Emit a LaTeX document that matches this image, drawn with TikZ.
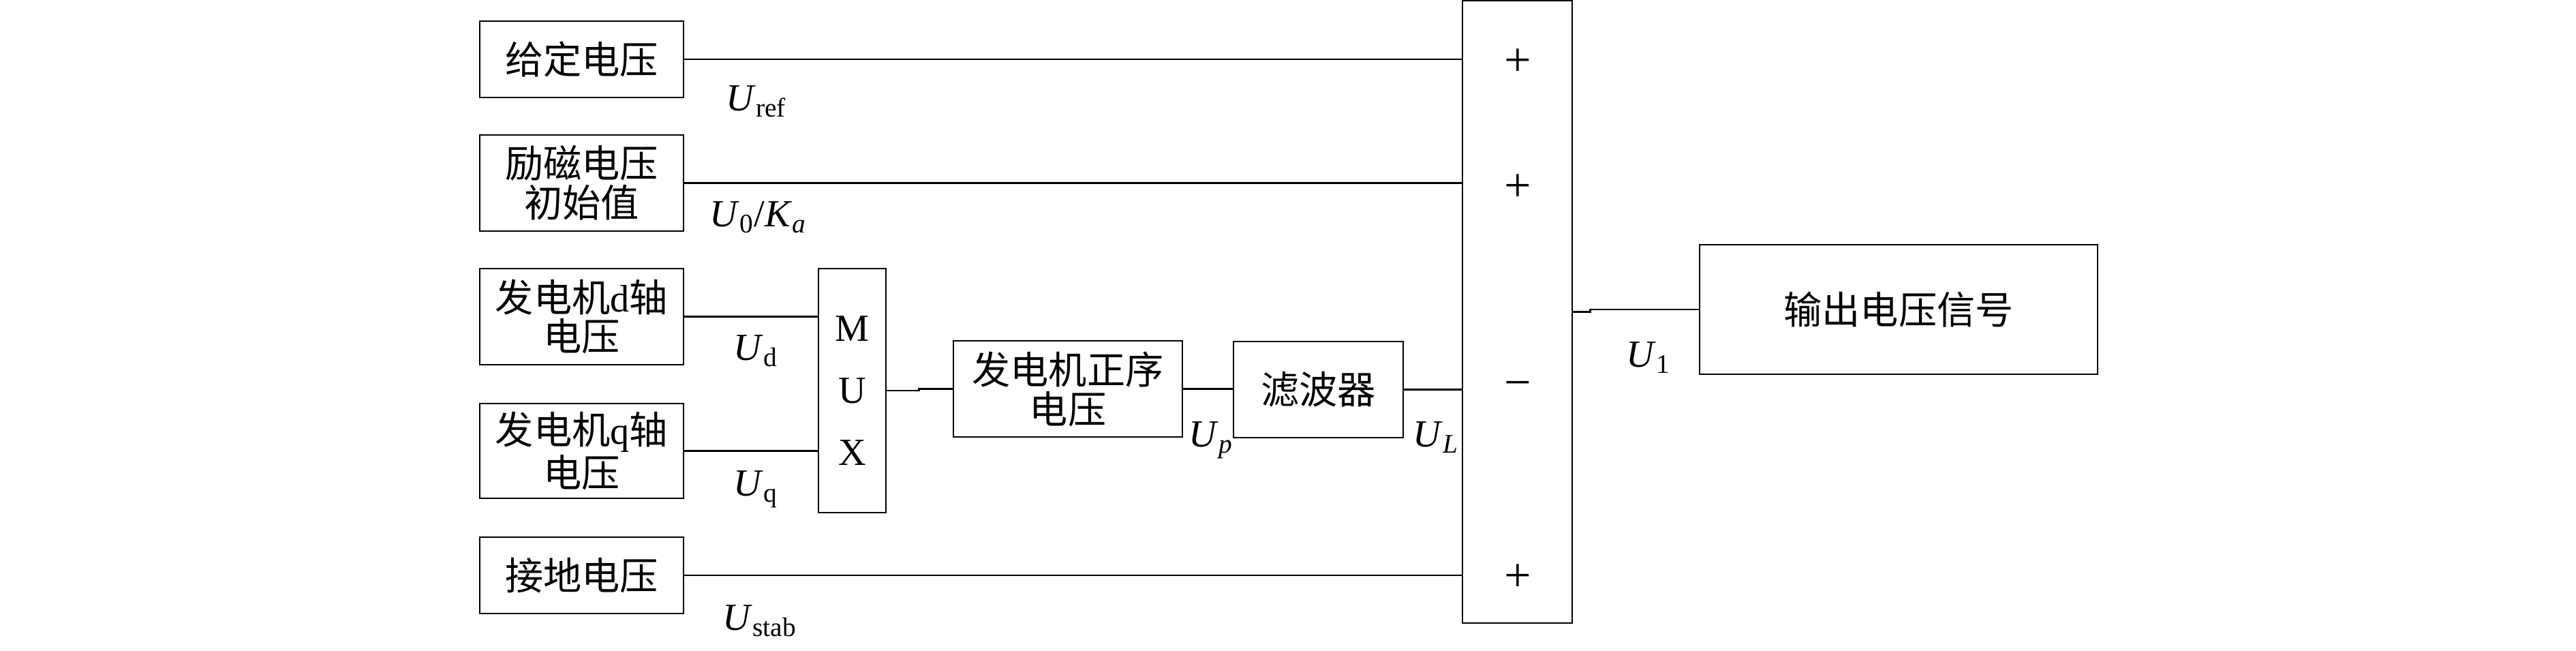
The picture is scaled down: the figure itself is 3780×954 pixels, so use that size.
\documentclass[tikz,border=0pt]{standalone}
\usepackage{fontspec}
\setmainfont{Liberation Serif}
\newfontfamily\cjk{Noto Sans CJK SC}
\tikzset{
  blockbox/.style={draw,line width=0.8pt,inner sep=0pt,align=center,
    font=\fontsize{16pt}{16.5pt}\selectfont\cjk},
  leftbox/.style={blockbox,minimum width=29.9mm},
  sig/.style={line width=0.8pt},
  siglabel/.style={anchor=base west,inner sep=0pt,font=\fontsize{16pt}{18pt}\selectfont},
  signmark/.style={inner sep=0pt,font=\fontsize{20pt}{22pt}\selectfont}
}
\begin{document}
\begin{tikzpicture}[x=0.1mm,y=-0.1mm]
  \useasboundingbox (0,0) rectangle (3780,954);
  % input blocks
  \node[leftbox,minimum height=11.2mm] (ref) at (853.5,87) {给定电压};
  \node[leftbox,minimum height=14.1mm] (init) at (853.5,268.5) {励磁电压\\初始值};
  \node[leftbox,minimum height=14.1mm] (ud) at (853.5,464.5) {发电机{\rmfamily d}轴\\电压};
  \node[leftbox,minimum height=13.9mm] (uq) at (853.5,661.5) {发电机{\rmfamily q}轴\\电压};
  \node[leftbox,minimum height=11.2mm] (gnd) at (853.5,844) {接地电压};
  % mux, positive sequence, filter
  \node[blockbox,minimum width=9.9mm,minimum height=35.8mm,
    font=\fontsize{16pt}{26pt}\selectfont] (mux) at (1250.5,573) {M\\U\\X};
  \node[blockbox,minimum width=33.6mm,minimum height=14.1mm] (pos) at (1567,570.5) {发电机正序\\电压};
  \node[blockbox,minimum width=24.9mm,minimum height=14.1mm] (filt) at (1934.5,571.5) {滤波器};
  % summing block and output
  \node[blockbox,minimum width=16.1mm,minimum height=91.3mm] (sum) at (2226.5,457.5) {};
  \node[blockbox,minimum width=58.4mm,minimum height=19mm] (out) at (2786,454) {输出电压信号};
  \node[signmark] (s1) at (2227,92) {+};
  \node[signmark] (s2) at (2227,276) {+};
  \node[signmark] (s3) at (2227,572) {−};
  \node[signmark] (s4) at (2227,848) {+};
  % connectors
  \draw[sig] (ref.east) -- (ref.east -| sum.west);
  \draw[sig] (init.east) -- (init.east -| sum.west);
  \draw[sig] (ud.east) -- (ud.east -| mux.west);
  \draw[sig] (uq.east) -- (uq.east -| mux.west);
  \draw[sig] (gnd.east) -- (gnd.east -| sum.west);
  \draw[sig] (mux.east) -- ++(47,0) |- (pos.west);
  \draw[sig] (pos.east) -- (pos.east -| filt.west);
  \draw[sig] (filt.east) -- (filt.east -| sum.west);
  \draw[sig] (sum.east) -- ++(25,0) |- (out.west);
  % signal labels
  \node[siglabel] (lref) at (1065,162) {\textit{U}\textsubscript{ref}};
  \node[siglabel] (linit) at (1041,332) {\textit{U}\textsubscript{0}/\textit{K}\textsubscript{\textit{a}}};
  \node[siglabel] (lud) at (1076,528) {\textit{U}\textsubscript{d}};
  \node[siglabel] (luq) at (1076,727) {\textit{U}\textsubscript{q}};
  \node[siglabel] (lgnd) at (1060,924) {\textit{U}\textsubscript{stab}};
  \node[siglabel] (lpos) at (1744,655) {\textit{U}\textsubscript{\textit{p}}};
  \node[siglabel] (lfilt) at (2073,655) {\textit{U}\textsubscript{\textit{L}}};
  \node[siglabel] (lsum) at (2386,538) {\textit{U}\textsubscript{1}};
\end{tikzpicture}
\end{document}
